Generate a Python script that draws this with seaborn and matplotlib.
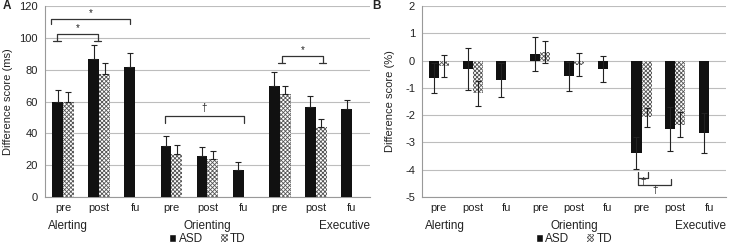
import numpy as np
import pandas as pd
import matplotlib
matplotlib.use("Agg")
import matplotlib.pyplot as plt
import matplotlib.patches as mpatches
import seaborn as sns

# %% data
slots = ["Alerting pre", "Alerting post", "Alerting fu",
         "Orienting pre", "Orienting post", "Orienting fu",
         "Executive pre", "Executive post", "Executive fu"]
tick_labels = ["pre", "post", "fu"] * 3
domains = ["Alerting", "Orienting", "Executive"]
groups = ["ASD", "TD"]

# panel A: reaction time difference score (ms), upward error bars only
asd_ms = [59.5, 86.5, 81.5, 32, 26, 17, 70, 56.5, 55.5]
asd_ms_err = [8, 9, 9, 6.5, 5.5, 5, 8.5, 7, 5.5]
td_ms = [59.5, 77, np.nan, 27, 24, np.nan, 64.5, 44, np.nan]
td_ms_err = [6.5, 7, np.nan, 5.5, 5, np.nan, 5.5, 5, np.nan]

# panel B: accuracy difference score (%), symmetric error bars
asd_pct = [-0.65, -0.3, -0.7, 0.25, -0.58, -0.3, -3.38, -2.5, -2.65]
asd_pct_err = [0.55, 0.77, 0.62, 0.63, 0.52, 0.48, 0.58, 0.8, 0.72]
td_pct = [-0.2, -1.2, np.nan, 0.3, -0.15, np.nan, -2.08, -2.35, np.nan]
td_pct_err = [0.42, 0.45, np.nan, 0.4, 0.42, np.nan, 0.35, 0.45, np.nan]


def make_frame(asd, asd_err, td, td_err):
    rows = []
    for i, s in enumerate(slots):
        rows.append((s, "ASD", asd[i], asd_err[i]))
        if not np.isnan(td[i]):
            rows.append((s, "TD", td[i], td_err[i]))
    return pd.DataFrame(rows, columns=["slot", "group", "value", "err"])


df_a = make_frame(asd_ms, asd_ms_err, td_ms, td_ms_err)
df_b = make_frame(asd_pct, asd_pct_err, td_pct, td_pct_err)

# %% style
sns.set_style("white")
plt.rcParams["font.family"] = ["Liberation Sans", "DejaVu Sans"]
plt.rcParams["hatch.linewidth"] = 0.6
plt.rcParams["axes.unicode_minus"] = False
txt = "#222222"
grid_c = "#bdbdbd"
hatch_c = "#555555"
hatch_p = "xxxxxxxx"

fig = plt.figure(figsize=(7.36, 2.48), dpi=100)
ax_a = fig.add_axes([45 / 736, 1 - 197 / 248, 325 / 736, 191 / 248])
ax_b = fig.add_axes([422 / 736, 1 - 197 / 248, 304 / 736, 191 / 248])


def draw_panel(ax, df, ylim, yticks, ylabel, both_sides):
    sns.barplot(data=df, x="slot", y="value", hue="group", order=slots,
                hue_order=groups, palette=["#111111", "white"], width=0.6,
                errorbar=None, legend=False, ax=ax, zorder=3)
    for bar_group, g in zip(ax.containers, groups):
        sub = df[df.group == g].set_index("slot")
        for patch in bar_group:
            xc = patch.get_x() + patch.get_width() / 2
            idx = int(round(xc + (0.15 if g == "ASD" else -0.15)))
            if slots[idx] not in sub.index:
                continue
            v = sub.loc[slots[idx], "value"]
            e = sub.loc[slots[idx], "err"]
            if g == "TD":
                patch.set_facecolor("white")
                patch.set_edgecolor(hatch_c)
                patch.set_hatch(hatch_p)
            patch.set_linewidth(0)
            yerr = [[e], [e]] if both_sides else [[0], [e]]
            ax.errorbar(xc, v, yerr=yerr, fmt="none", ecolor="#222222",
                        elinewidth=0.8, capsize=2, capthick=0.8, zorder=4)
    ax.set_ylim(*ylim)
    ax.set_yticks(yticks)
    ax.set_xlim(-0.5, len(slots) - 0.5)
    ax.set_xticks(range(len(slots)))
    ax.set_xticklabels(tick_labels, fontsize=8, color=txt)
    ax.tick_params(axis="x", length=0, pad=4)
    ax.tick_params(axis="y", length=2, color=grid_c, labelsize=8,
                   labelcolor=txt, pad=3)
    ax.set_xlabel("")
    ax.set_ylabel(ylabel, fontsize=8, color=txt)
    ax.grid(axis="y", color=grid_c, linewidth=0.8, zorder=0)
    ax.set_axisbelow(True)
    for side in ["top", "right"]:
        ax.spines[side].set_visible(False)
    for side in ["left", "bottom"]:
        ax.spines[side].set_color("#999999")
        ax.spines[side].set_linewidth(0.8)
    # domain labels under the tick labels
    ax.text(0.01, -0.12, domains[0], transform=ax.transAxes, ha="left",
            va="top", fontsize=8.5, color=txt)
    ax.text(0.5, -0.12, domains[1], transform=ax.transAxes, ha="center",
            va="top", fontsize=8.5, color=txt)
    ax.text(1.0, -0.12, domains[2], transform=ax.transAxes, ha="right",
            va="top", fontsize=8.5, color=txt)
    handles = [mpatches.Patch(facecolor="#111111", label="ASD"),
               mpatches.Patch(facecolor="white", edgecolor=hatch_c,
                              hatch=hatch_p, linewidth=0, label="TD")]
    ax.legend(handles=handles, loc="center", bbox_to_anchor=(0.5, -0.22),
              ncol=2, frameon=False, fontsize=8.5, handlelength=0.6,
              handleheight=0.6, handletextpad=0.2, columnspacing=1.5,
              labelcolor=txt, borderpad=0.1)


draw_panel(ax_a, df_a, (0, 120), range(0, 121, 20), "Difference score (ms)", False)
draw_panel(ax_b, df_b, (-5, 2), range(-5, 3), "Difference score (%)", True)
ax_a.yaxis.set_label_coords(-0.1, 0.5)
ax_b.yaxis.set_label_coords(-0.09, 0.5)

br = dict(color="#333333", linewidth=0.9, zorder=5)


def bracket(ax, x0, x1, top, drop, label, ly, caps=False):
    ax.plot([x0, x0, x1, x1], [top - drop, top, top, top - drop], **br)
    if caps:
        for x in (x0, x1):
            ax.plot([x - 0.1, x + 0.1], [top - drop, top - drop], **br)
    ax.text((x0 + x1) / 2, ly, label, ha="center", va="center",
            fontsize=7, color=txt)


bracket(ax_a, -0.34, 1.85, 112, 3.5, "*", 115.5)
bracket(ax_a, -0.17, 0.96, 102.3, 4, "*", 106, caps=True)
bracket(ax_a, 2.81, 5.01, 51.2, 5, "\u2020", 56)
bracket(ax_a, 6.06, 7.19, 88.7, 4.5, "*", 92.5, caps=True)

# panel B brackets open upward, below the Executive pre bars
ax_b.plot([5.9, 5.9, 6.2, 6.2], [-4.08, -4.3, -4.3, -4.08], **br)
ax_b.text(6.05, -4.45, "\u2020", ha="center", va="center", fontsize=7, color=txt)
ax_b.plot([5.9, 5.9, 6.86, 6.86], [-4.35, -4.57, -4.57, -4.35], **br)
ax_b.text(6.4, -4.74, "\u2020", ha="center", va="center", fontsize=7, color=txt)

fig.text(3 / 736, 1 - 9 / 248, "A", fontsize=8.5, fontweight="bold", color=txt)
fig.text(372 / 736, 1 - 9 / 248, "B", fontsize=8.5, fontweight="bold", color=txt)

fig.savefig("out.png", dpi=100)
